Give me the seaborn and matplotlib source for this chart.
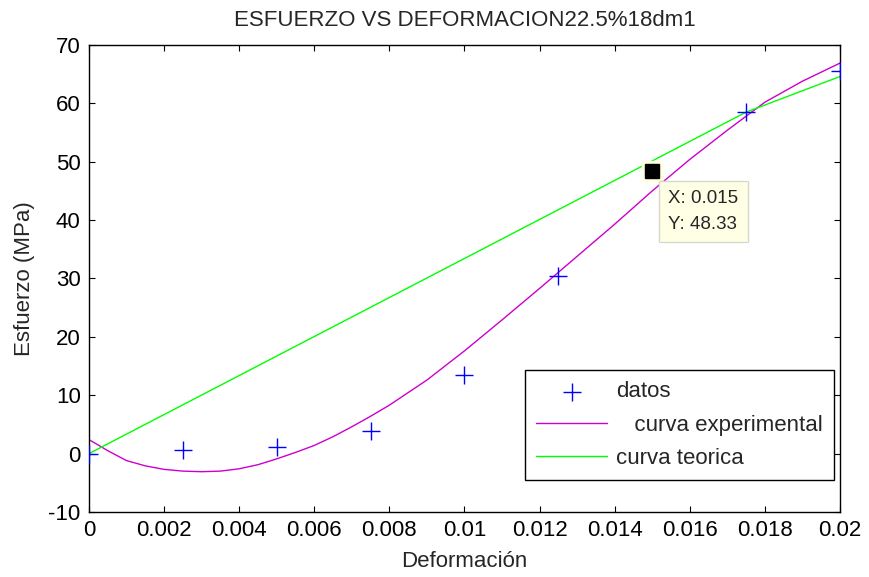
import matplotlib
matplotlib.use("Agg")
import matplotlib.pyplot as plt
import seaborn as sns
import numpy as np
import pandas as pd

# ---- data ----
datos_x = [0, 0.0025, 0.005, 0.0075, 0.01, 0.0125, 0.015, 0.0175, 0.02]
datos_y = [0, 0.7, 1.2, 3.9, 13.5, 30.5, 48.33, 58.5, 65.6]

exp_x = [0, 0.0005, 0.001, 0.0015, 0.002, 0.0025, 0.003, 0.0035, 0.004, 0.0045,
         0.005, 0.0055, 0.006, 0.0065, 0.007, 0.0075, 0.008, 0.009, 0.010,
         0.011, 0.012, 0.013, 0.014, 0.015, 0.016, 0.017, 0.018, 0.019, 0.020]
exp_y = [2.4, 0.5, -1.2, -2.1, -2.7, -3.0, -3.1, -3.0, -2.6, -1.9,
         -0.9, 0.2, 1.4, 2.9, 4.6, 6.4, 8.3, 12.6, 17.6,
         22.9, 28.3, 33.8, 39.3, 45.0, 50.4, 55.4, 60.2, 63.8, 66.9]

teo_x = [0, 0.0175, 0.02]
teo_y = [0, 58.5, 64.6]

tip_x = 0.015
tip_y = 48.33

xticks = [0, 0.002, 0.004, 0.006, 0.008, 0.01, 0.012, 0.014, 0.016, 0.018, 0.02]
xticklabels = ["0", "0.002", "0.004", "0.006", "0.008", "0.01", "0.012",
               "0.014", "0.016", "0.018", "0.02"]
yticks = [-10, 0, 10, 20, 30, 40, 50, 60, 70]

title = "ESFUERZO VS DEFORMACION22.5%18dm1"
xlabel = "Deformación"
ylabel = "Esfuerzo (MPa)"
labels = ["datos", "   curva experimental", "curva teorica"]

# ---- style ----
sns.set_style("ticks")
plt.rcParams["font.family"] = ["Liberation Sans", "DejaVu Sans"]
plt.rcParams["font.size"] = 16
plt.rcParams["axes.unicode_minus"] = False

fig = plt.figure(figsize=(8.69, 5.77), dpi=100)
ax = fig.add_axes([0.1024, 0.1127, 0.8642, 0.8093])

sns.scatterplot(x=datos_x, y=datos_y, marker="+", s=170, color="#0000ff",
                linewidth=1.0, ax=ax, label=labels[0], zorder=3)
sns.lineplot(x=exp_x, y=exp_y, color="#cc00cc", linewidth=1.0, sort=False,
             estimator=None, ax=ax, label=labels[1], zorder=2)
sns.lineplot(x=teo_x, y=teo_y, color="#00ff00", linewidth=1.0, sort=False,
             estimator=None, ax=ax, label=labels[2], zorder=2)

# datatip
ax.plot([tip_x], [tip_y], marker="s", markersize=14, color="#ffffe0",
        markeredgecolor="#ffffe0", zorder=5)
ax.plot([tip_x], [tip_y], marker="s", markersize=9.5, color="black", zorder=6)
ax.annotate("X: 0.015\nY: 48.33", xy=(tip_x, tip_y), xycoords="data",
            textcoords="offset pixels", xytext=(16, -19), ha="left", va="top",
            fontsize=13.5, linespacing=1.65, zorder=7,
            bbox=dict(boxstyle="square,pad=0.5", fc="#ffffe6", ec="#d8d8cc", lw=1))

ax.set_xlim(0, 0.02)
ax.set_ylim(-10, 70)
ax.set_xticks(xticks)
ax.set_xticklabels(xticklabels)
ax.set_yticks(yticks)
ax.tick_params(direction="in", top=True, right=True, length=4, width=0.8,
               colors="black", labelsize=16, pad=6)
for sp in ax.spines.values():
    sp.set_visible(True)
    sp.set_color("black")
    sp.set_linewidth(1.0)

ax.set_title(title, fontsize=16, pad=14)
ax.set_xlabel(xlabel, fontsize=16, labelpad=7)
ax.set_ylabel(ylabel, fontsize=16, labelpad=10)

leg = ax.legend(loc="lower right", bbox_to_anchor=(0.992, 0.0685),
                borderaxespad=0, frameon=True, fancybox=False,
                edgecolor="black", framealpha=1, fontsize=16,
                handlelength=3.2, handletextpad=0.4, labelspacing=0.55,
                borderpad=0.5)
leg.get_frame().set_linewidth(1.0)

fig.savefig("out.png", dpi=100)
